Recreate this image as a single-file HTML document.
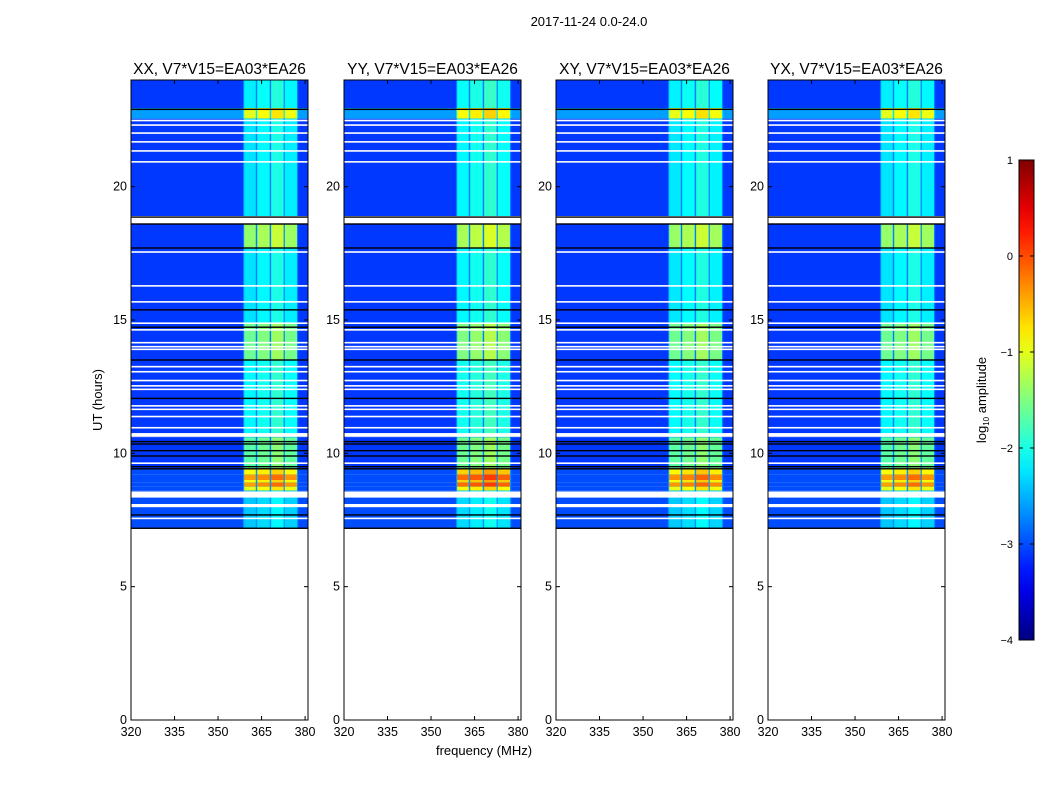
<!DOCTYPE html>
<html><head><meta charset="utf-8"><style>
body{margin:0;background:#fff;}
svg{display:block;font-family:"Liberation Sans",sans-serif;}
</style></head><body>
<svg id="fig" width="1050" height="800" viewBox="0 0 1050 800">
<text x="589" y="26" font-size="13" text-anchor="middle">2017-11-24 0.0-24.0</text>
<text x="484" y="755" font-size="13" text-anchor="middle">frequency (MHz)</text>
<text transform="translate(102,400) rotate(-90)" font-size="13" text-anchor="middle">UT (hours)</text>
<text transform="translate(986,400) rotate(-90)" font-size="13" text-anchor="middle">log<tspan font-size="8" dy="3">10</tspan><tspan dy="-3"> amplitude</tspan></text>
</svg>
<script>
const panelTitles=["XX, V7*V15=EA03*EA26","YY, V7*V15=EA03*EA26","XY, V7*V15=EA03*EA26","YX, V7*V15=EA03*EA26"];
const panelX0=[131,344,556,768];
const panelRfiOffset=[0,0.25,0.05,0.0];
const segStart=[22.95,22.55,18.9,17.7,14.9,13.5,10.6,9.4,9.2,9.0,8.9,8.75,8.6,7.2];
const segEnd=[24,22.95,22.55,18.6,17.7,14.9,13.5,10.6,9.4,9.2,9.0,8.9,8.75,8.6];
const segBg=[-3.1,-2.6,-3.1,-3.1,-3.1,-3.1,-3.1,-3.1,-3.0,-3.0,-3.0,-3.0,-3.0,-3.0];
const segRfi=[-2.2,-1.0,-2.25,-1.4,-2.25,-1.6,-2.15,-1.7,-0.9,-0.4,-0.9,-0.4,-1.0,-2.4];
const bandLo=[359.0,363.5,368.3,373.0];
const bandHi=[363.0,367.8,372.6,377.2];
const bandOffset=[0,0.1,0.25,0.05];
const flagStart=[22.45,22.28,21.98,21.65,21.31,20.9,18.62,17.52,16.25,15.65,14.85,14.6,14.12,13.97,13.87,13.22,13.03,12.7,12.5,12.37,11.75,11.62,11.35,10.93,10.62,9.6,8.34,7.98,7.53];
const flagEnd=[22.51,22.34,22.04,21.71,21.37,20.96,18.84,17.58,16.31,15.71,14.91,14.66,14.18,14.03,13.93,13.28,13.09,12.76,12.56,12.43,11.81,11.68,11.41,10.99,10.76,9.66,8.57,8.1,7.59];
const blackLines=[22.9,18.86,18.6,17.7,15.38,14.73,13.5,12.06,10.44,10.35,10.1,9.9,9.5,9.42,7.69,7.19];
const xTicks=[320,335,350,365,380];
const yTicks=[0,5,10,15,20];
const cbTicks=[1,0,-1,-2,-3,-4];

const NS="http://www.w3.org/2000/svg";
const svg=document.getElementById('fig');
const PW=177, PY0=80, PY1=720, FMIN=320, FMAX=381, TMAX=24;
function jet(v){
  function c(x){return Math.max(0,Math.min(1,x));}
  const r=c(1.5-Math.abs(4*v-3)), g=c(1.5-Math.abs(4*v-2)), b=c(1.5-Math.abs(4*v-1));
  return `rgb(${Math.round(r*255)},${Math.round(g*255)},${Math.round(b*255)})`;
}
function col(l){return jet((l+4)/5);}
function el(tag,attrs,parent){const e=document.createElementNS(NS,tag);for(const k in attrs)e.setAttribute(k,attrs[k]);(parent||svg).appendChild(e);return e;}

panelX0.forEach((x0,p)=>{
  const xs=f=>x0+(f-FMIN)/(FMAX-FMIN)*PW;
  const ys=t=>PY1-t/TMAX*(PY1-PY0);
  const g=el('g',{});
  
  
  for(let i=0;i<segStart.length;i++){
    const y1=ys(segEnd[i]), y2=ys(segStart[i]);
    const r=el('rect',{x:x0,y:y1,width:PW,height:y2-y1,fill:col(segBg[i])},g);
    
    
    const ed=el('rect',{x:xs(358.6),y:y1,width:xs(377.6)-xs(358.6),height:y2-y1,fill:col(segBg[i]+0.35)},g);
    
    
    for(let b=0;b<bandLo.length;b++){
      const lv=Math.min(0.9,segRfi[i]+bandOffset[b]+panelRfiOffset[p]*(segRfi[i]>-0.95?1:0.4));
      const br=el('rect',{x:xs(bandLo[b]),y:y1,width:xs(bandHi[b])-xs(bandLo[b]),height:y2-y1,fill:col(lv)},g);
      
      
    }
  }
  for(let i=0;i<flagStart.length;i++){
    const y1=ys(flagEnd[i]), y2=ys(flagStart[i]);
    const r=el('rect',{x:x0,y:y1,width:PW,height:Math.max(1.5,y2-y1),fill:'#fff'},g);
    
    
  }
  blackLines.forEach(t=>{
    const r=el('rect',{x:x0,y:ys(t)-0.7,width:PW,height:1.4,fill:'#000'},g);
    
    
  });
  const fr=el('rect',{x:x0,y:PY0,width:PW,height:PY1-PY0,fill:'none',stroke:'#000','stroke-width':1},g);
  
  
  const tt=el('text',{x:x0+PW/2,y:74,'font-size':15.5,'text-anchor':'middle'},g);
  tt.textContent=panelTitles[p];
  
  
  xTicks.forEach(f=>{
    el('line',{x1:xs(f),x2:xs(f),y1:PY1,y2:PY1-4,stroke:'#000'},g);
    el('line',{x1:xs(f),x2:xs(f),y1:PY0,y2:PY0+4,stroke:'#000'},g);
    const t=el('text',{x:xs(f),y:PY1+16,'font-size':12.5,'text-anchor':'middle'},g);
    t.textContent=f;
    
    
  });
  yTicks.forEach(v=>{
    el('line',{x1:x0,x2:x0+4,y1:ys(v),y2:ys(v),stroke:'#000'},g);
    el('line',{x1:x0+PW,x2:x0+PW-4,y1:ys(v),y2:ys(v),stroke:'#000'},g);
    const t=el('text',{x:x0-4,y:ys(v)+4,'font-size':12.5,'text-anchor':'end'},g);
    t.textContent=v;
    
    
  });
});

const CBX=1019, CBW=15, CBY0=160, CBY1=640;
const cb=el('g',{});


const defs=el('defs',{},cb);
const grad=el('linearGradient',{id:'jetg',x1:0,y1:1,x2:0,y2:0},defs);
for(let i=0;i<=20;i++){el('stop',{offset:i/20,'stop-color':jet(i/20)},grad);}
el('rect',{x:CBX,y:CBY0,width:CBW,height:CBY1-CBY0,fill:'url(#jetg)',stroke:'#000','stroke-width':1},cb);
cbTicks.forEach(v=>{
  const y=CBY1-(v+4)/5*(CBY1-CBY0);
  el('line',{x1:CBX,x2:CBX+4,y1:y,y2:y,stroke:'#000'},cb);
  el('line',{x1:CBX+CBW,x2:CBX+CBW-4,y1:y,y2:y,stroke:'#000'},cb);
  const t=el('text',{x:CBX-6,y:y+4,'font-size':11,'text-anchor':'end'},cb);
  t.textContent=v<0?'\u2212'+(-v):v;
  
  
});
</script>
</body></html>
